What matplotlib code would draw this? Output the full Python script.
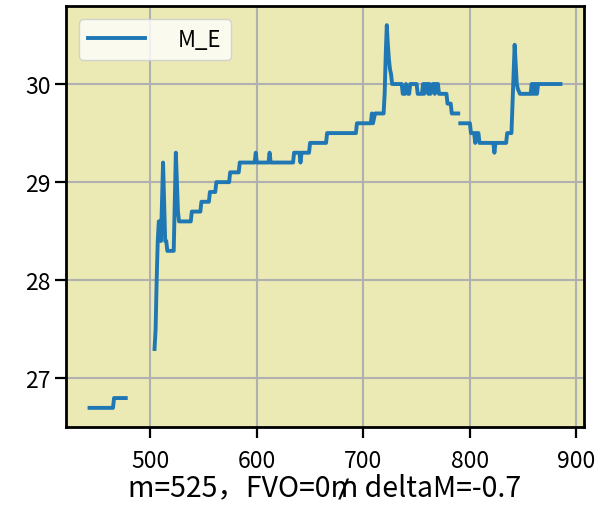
import numpy as np
import matplotlib
matplotlib.use("Agg")
import matplotlib.pyplot as plt

plt.rcParams["font.family"] = ["Noto Sans CJK SC", "DejaVu Sans"]
plt.rcParams["axes.unicode_minus"] = False

nan = np.nan

# vertices of the M_E trace (nan = gap in the data)
m_vals = [443, 465, 466, 477, nan,
          504, 505, 506, 507, 508, 509, 510, 511, 512, 513, 514, 515, 516, 522,
          523, 524, 525, 526, 527, 538, 539, 547, 548, 555, 556, 561, 562, 574,
          575, 583, 584, 598, 599, 600, 611, 612, 613, 634, 635, 640, 641, 642,
          649, 650, 665, 666, 693, 694, 707, 708, 709, 711, 719, 720, 721, 722,
          723, 724, 725, 726, 727, 736, 737, 739, 740, 742, 743, 744, 750, 751,
          755, 756, 757, 758, 760, 761, 762, 763, 765, 766, 767, 768, 770, 771,
          772, 778, 779, 782, 783, 789, nan,
          791, 800, 801, 804, 805, 806, 808, 809, 822, 823, 824, 834, 835, 839,
          840, 841, 842, 843, 844, 845, 847, 857, 858, 859, 860, 861, 862, 863,
          864, 885]
me_vals = [26.7, 26.7, 26.8, 26.8, nan,
           27.3, 27.5, 28.0, 28.4, 28.6, 28.6, 28.4, 28.8, 29.2, 28.8, 28.4, 28.4,
           28.3, 28.3, 28.8, 29.3, 29.0, 28.7, 28.6, 28.6, 28.7, 28.7, 28.8, 28.8,
           28.9, 28.9, 29.0, 29.0, 29.1, 29.1, 29.2, 29.2, 29.3, 29.2, 29.2, 29.3,
           29.2, 29.2, 29.3, 29.3, 29.2, 29.3, 29.3, 29.4, 29.4, 29.5, 29.5, 29.6,
           29.6, 29.7, 29.6, 29.7, 29.7, 29.9, 30.3, 30.6, 30.4, 30.25, 30.15,
           30.1, 30.0, 30.0, 29.9, 29.9, 30.0, 29.9, 29.9, 30.0, 30.0, 29.9, 29.9,
           30.0, 29.9, 30.0, 30.0, 29.9, 30.0, 29.9, 30.0, 30.0, 29.9, 30.0, 30.0,
           29.9, 29.9, 29.9, 29.8, 29.8, 29.7, 29.7, nan,
           29.6, 29.6, 29.5, 29.5, 29.4, 29.5, 29.5, 29.4, 29.4, 29.3, 29.4, 29.4,
           29.5, 29.5, 29.8, 30.1, 30.4, 30.2, 30.0, 29.95, 29.9, 29.9, 30.0, 29.9,
           30.0, 29.9, 30.0, 29.9, 30.0, 30.0]

xlabel = "m=525，FVO=0₥ deltaM=-0.7"

fig = plt.figure(figsize=(6.01, 5.10), dpi=100)
ax = fig.add_axes([66 / 601, 82 / 510, 518 / 601, 421 / 510])
ax.set_facecolor("#ebe9b4")
ax.plot(m_vals, me_vals, color="#1f77b4", lw=2.8, label="M_E")
ax.grid(True, color="#b0b0b0", lw=1.5)
ax.set_axisbelow(True)
for s in ax.spines.values():
    s.set_linewidth(2)
ax.tick_params(labelsize=16.5, width=1.6, length=8)
ax.tick_params(axis="x", pad=8)
ax.tick_params(axis="y", pad=3)
ax.set_xticks([500, 600, 700, 800, 900])
ax.set_yticks([27, 28, 29, 30])
ax.set_xlabel(xlabel, fontsize=20.5, labelpad=0)
ax.legend(loc="upper left", fontsize=16, handlelength=2.55,
          handletextpad=1.5, borderaxespad=0.6)

fig.savefig("out.png", dpi=100)
